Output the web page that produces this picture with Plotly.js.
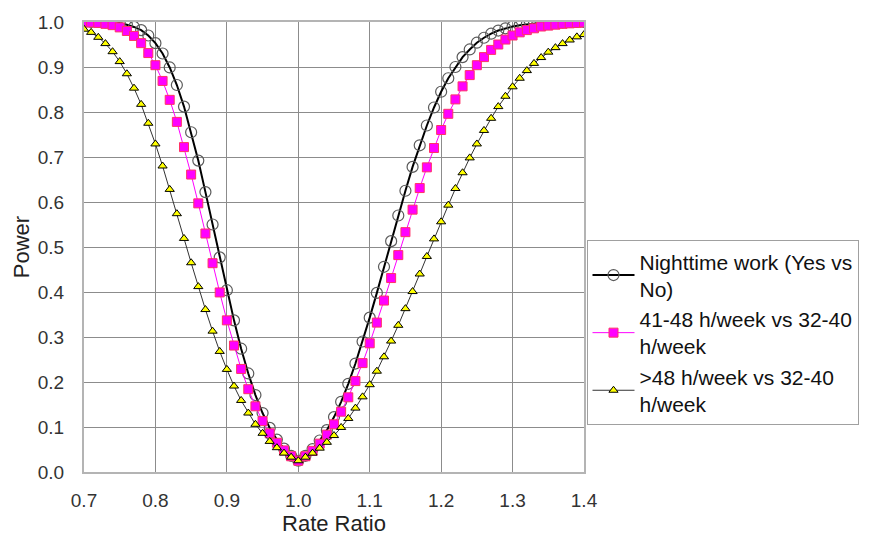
<!DOCTYPE html>
<html>
<head>
<meta charset="utf-8">
<script src="https://cdn.plot.ly/plotly-3.0.1.min.js"></script>
<style>html,body{margin:0;padding:0;background:#fff;}#chart{width:870px;height:537px;}</style>
</head>
<body>
<div id="chart"></div>
<script>
const rateRatio = [0.70,0.71,0.72,0.73,0.74,0.75,0.76,0.77,0.78,0.79,0.80,0.81,0.82,0.83,0.84,0.85,0.86,0.87,0.88,0.89,0.90,0.91,0.92,0.93,0.94,0.95,0.96,0.97,0.98,0.99,1.00,1.01,1.02,1.03,1.04,1.05,1.06,1.07,1.08,1.09,1.10,1.11,1.12,1.13,1.14,1.15,1.16,1.17,1.18,1.19,1.20,1.21,1.22,1.23,1.24,1.25,1.26,1.27,1.28,1.29,1.30,1.31,1.32,1.33,1.34,1.35,1.36,1.37,1.38,1.39,1.40];

const nighttimePower = [1.000,1.000,1.000,0.999,0.998,0.997,0.994,0.989,0.982,0.970,0.953,0.930,0.899,0.860,0.812,0.755,0.692,0.622,0.550,0.477,0.404,0.337,0.274,0.219,0.171,0.131,0.098,0.072,0.052,0.036,0.025,0.036,0.051,0.070,0.093,0.122,0.156,0.196,0.241,0.290,0.343,0.398,0.456,0.513,0.570,0.625,0.678,0.726,0.770,0.810,0.845,0.875,0.900,0.922,0.939,0.954,0.965,0.974,0.981,0.986,0.990,0.993,0.995,0.996,0.998,0.998,0.999,0.999,1.000,1.000,1.000];

const hours4148Power = [0.999,0.999,0.998,0.996,0.993,0.988,0.980,0.969,0.953,0.931,0.904,0.869,0.827,0.778,0.722,0.661,0.597,0.530,0.464,0.399,0.337,0.281,0.229,0.184,0.146,0.113,0.086,0.065,0.048,0.035,0.025,0.035,0.047,0.063,0.083,0.106,0.134,0.166,0.202,0.242,0.286,0.332,0.381,0.431,0.482,0.533,0.583,0.631,0.677,0.720,0.760,0.796,0.828,0.857,0.882,0.904,0.922,0.938,0.950,0.961,0.970,0.977,0.982,0.986,0.990,0.992,0.994,0.996,0.997,0.998,0.999];

const hoursOver48Power = [0.984,0.977,0.966,0.952,0.934,0.912,0.885,0.853,0.817,0.775,0.729,0.680,0.628,0.574,0.519,0.465,0.412,0.361,0.313,0.268,0.228,0.191,0.159,0.131,0.106,0.086,0.068,0.054,0.042,0.033,0.025,0.033,0.042,0.053,0.066,0.081,0.099,0.119,0.142,0.167,0.194,0.224,0.256,0.291,0.326,0.363,0.401,0.440,0.479,0.518,0.556,0.593,0.630,0.665,0.698,0.729,0.759,0.786,0.812,0.835,0.856,0.875,0.892,0.908,0.921,0.933,0.943,0.952,0.960,0.967,0.972];

const seriesNames = ["Nighttime work (Yes vs<br>No)", "41-48 h/week vs 32-40<br>h/week", ">48 h/week vs 32-40<br>h/week"];
const xTickVals = [0.7,0.8,0.9,1.0,1.1,1.2,1.3,1.4];
const yTickVals = [0.0,0.1,0.2,0.3,0.4,0.5,0.6,0.7,0.8,0.9,1.0];

const FONT = "Liberation Sans, Arial, sans-serif";

const traces = [
  {
    x: rateRatio, y: nighttimePower, name: seriesNames[0], type: "scatter", mode: "lines+markers",
    line: {color: "#000000", width: 2},
    marker: {symbol: "circle", size: 11, color: "rgba(255,255,255,0)", line: {color: "#5a5a5a", width: 1.2}},
    legendgroup: "a"
  },
  {
    x: rateRatio, y: hours4148Power, name: seriesNames[1], type: "scatter", mode: "lines+markers",
    line: {color: "#FF00FF", width: 1},
    marker: {symbol: "square", size: 9, color: "#FF00FF", line: {color: "#FF3366", width: 1}},
    legendgroup: "b"
  },
  {
    x: rateRatio, y: hoursOver48Power, name: seriesNames[2], type: "scatter", mode: "lines+markers",
    line: {color: "#333333", width: 1},
    marker: {symbol: "triangle-up", size: 8, color: "#FFFF00", line: {color: "#000000", width: 1}},
    legendgroup: "c"
  }
];

const layout = {
  width: 870, height: 537,
  paper_bgcolor: "#ffffff", plot_bgcolor: "#ffffff",
  margin: {l: 84, r: 285.5, t: 21.7, b: 65.3, autoexpand: false},
  font: {family: FONT, color: "#222222"},
  showlegend: true,
  legend: {
    x: 1.005, xanchor: "left", y: 0.515, yanchor: "top",
    bordercolor: "#a0a0a0", borderwidth: 1, bgcolor: "#ffffff",
    font: {family: FONT, size: 21, color: "#111111"},
    itemwidth: 42,
    tracegroupgap: 0
  },
  xaxis: {
    range: [0.7, 1.4], tickvals: xTickVals, tickformat: ".1f",
    showgrid: true, gridcolor: "#8c8c8c", gridwidth: 1,
    showline: true, linecolor: "#b4b4b4", linewidth: 2, mirror: true,
    zeroline: false, ticks: "outside", ticklen: 10, tickcolor: "rgba(0,0,0,0)",
    tickfont: {family: FONT, size: 19, color: "#333333"},
    title: {text: "Rate Ratio", font: {family: FONT, size: 22, color: "#222222"}, standoff: 6},
    automargin: false
  },
  yaxis: {
    range: [0, 1.0], tickvals: yTickVals, tickformat: ".1f",
    showgrid: true, gridcolor: "#8c8c8c", gridwidth: 1,
    showline: true, linecolor: "#b4b4b4", linewidth: 2, mirror: true,
    zeroline: false, ticks: "outside", ticklen: 14, tickcolor: "rgba(0,0,0,0)",
    tickfont: {family: FONT, size: 19, color: "#333333"},
    title: {text: "Power", font: {family: FONT, size: 22, color: "#222222"}, standoff: 2},
    automargin: false
  }
};

Plotly.newPlot("chart", traces, layout, {displayModeBar: false, staticPlot: true});
</script>
</body>
</html>
